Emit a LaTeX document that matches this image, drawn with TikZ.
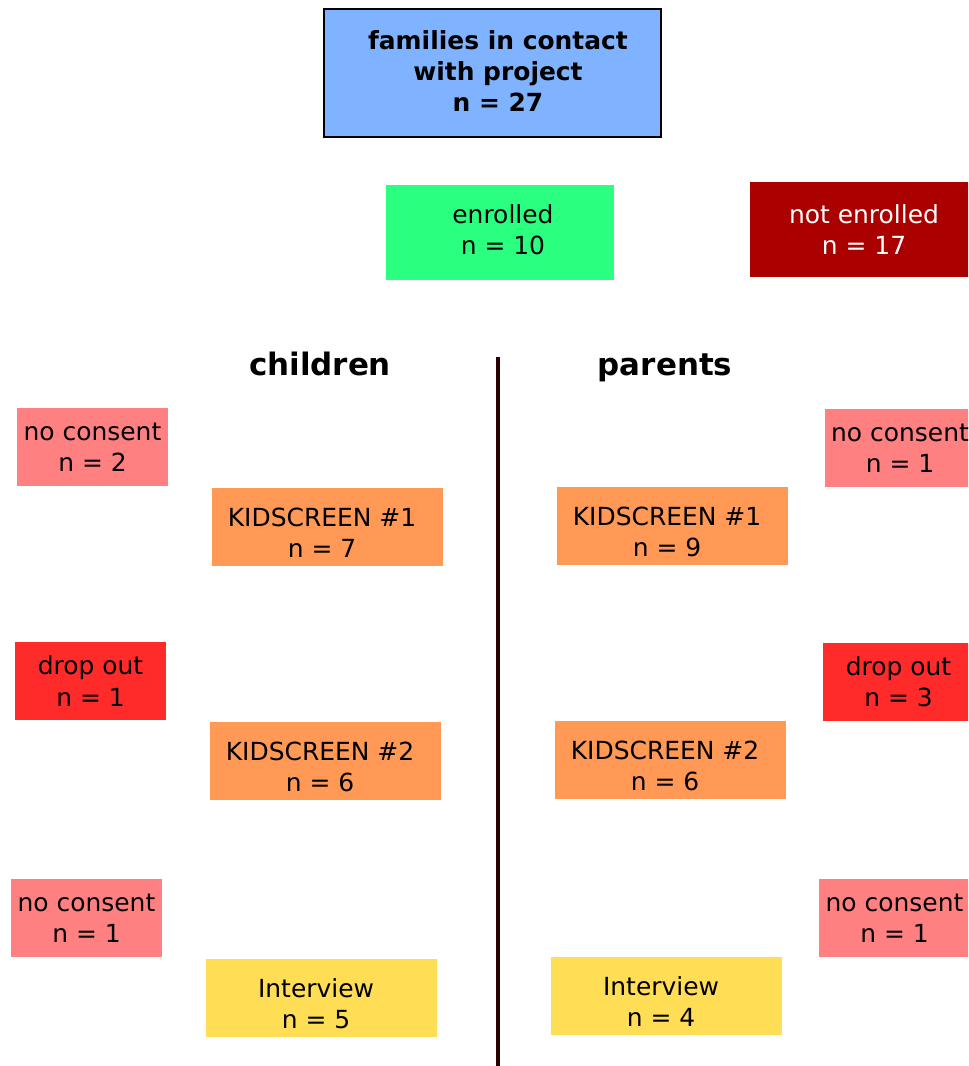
\documentclass[tikz,border=0pt]{standalone}
\usepackage{fontspec}
\setmainfont{DejaVu Sans}
\usetikzlibrary{positioning}

\definecolor{contactblue}{HTML}{80B3FF}
\definecolor{enrolgreen}{HTML}{2AFF80}
\definecolor{notenrolred}{HTML}{AA0000}
\definecolor{consentpink}{HTML}{FF8080}
\definecolor{dropred}{HTML}{FF2A2A}
\definecolor{surveyorange}{HTML}{FF9955}
\definecolor{interviewyellow}{HTML}{FFDD55}
\definecolor{dividerbrown}{HTML}{2B0000}

\begin{document}
\begin{tikzpicture}[x=0.75pt, y=-0.75pt,
    boxfont/.style={font=\fontsize{18.7}{23.3}\selectfont},
    box/.style={inner sep=0, align=center, boxfont,
        minimum height=0.75pt*\boxh},
    boxlabel/.style={inner sep=0, align=center, boxfont},
    widebox/.style={box, minimum width=0.75pt*\widew,
        label={[boxlabel, xshift=-4.1pt, yshift=-4.1pt]center:#1}},
    smallbox/.style={box, minimum width=0.75pt*\smallw},
    group/.style={anchor=base, font=\fontsize{23.2}{28}\selectfont\bfseries}]
    \newcommand\boxh{78}
    \newcommand\widew{231}
    \newcommand\smallw{151}
    \newcommand\enrolw{228}

    \clip (0, 0) rectangle (968, 1066);

    \node[box, draw=black, line width=1.1pt, fill=contactblue,
        minimum width=0.75pt*337, minimum height=0.75pt*128,
        label={[boxlabel, font=\fontsize{18.7}{23.3}\selectfont\bfseries,
            xshift=4.1pt, yshift=1.5pt]center:families in contact\\with project\\n = 27}]
        (contact) at (492.5, 73) {};

    \node[box, fill=enrolgreen, minimum width=0.75pt*\enrolw,
        minimum height=0.75pt*95,
        label={[boxlabel, xshift=2.2pt, yshift=2.2pt]center:enrolled\\n = 10}]
        (enrolled) at (500, 232.5) {};
    \node[box, fill=notenrolred, text=white, minimum width=0.75pt*\enrolw,
        minimum height=0.75pt*95]
        (not-enrolled) at (864, 229.5) {not enrolled\\n = 17};

    \coordinate (divider-top) at (498, 357);
    \coordinate (divider-bottom) at (498, 1066);
    \draw[dividerbrown, line width=2.3pt] (divider-top) -- (divider-bottom);

    \node[group] (children) at (320, 375) {children};
    \node[group] (parents) at (665, 375) {parents};

    % children
    \node[smallbox, fill=consentpink] (child-consent-1) at (92.5, 447)
        {no consent\\n = 2};
    \node[widebox={KIDSCREEN \#1\\n = 7}, fill=surveyorange]
        (child-kids-1) at (327.5, 527) {};
    \node[smallbox, fill=dropred] (child-drop) at (90.5, 681)
        {drop out\\n = 1};
    \node[widebox={KIDSCREEN \#2\\n = 6}, fill=surveyorange]
        (child-kids-2) at (325.5, 761) {};
    \node[smallbox, fill=consentpink] (child-consent-2) at (86.5, 918)
        {no consent\\n = 1};
    \node[widebox={Interview\\n = 5}, fill=interviewyellow]
        (child-interview) at (321.5, 998) {};

    % parents
    \node[smallbox, fill=consentpink] (parent-consent-1) at (900, 448)
        {no consent\\n = 1};
    \node[widebox={KIDSCREEN \#1\\n = 9}, fill=surveyorange]
        (parent-kids-1) at (672.5, 526) {};
    \node[smallbox, fill=dropred] (parent-drop) at (898.5, 682)
        {drop out\\n = 3};
    \node[widebox={KIDSCREEN \#2\\n = 6}, fill=surveyorange]
        (parent-kids-2) at (670.5, 760) {};
    \node[smallbox, fill=consentpink] (parent-consent-2) at (894.5, 918)
        {no consent\\n = 1};
    \node[widebox={Interview\\n = 4}, fill=interviewyellow]
        (parent-interview) at (666.5, 996) {};
\end{tikzpicture}
\end{document}
